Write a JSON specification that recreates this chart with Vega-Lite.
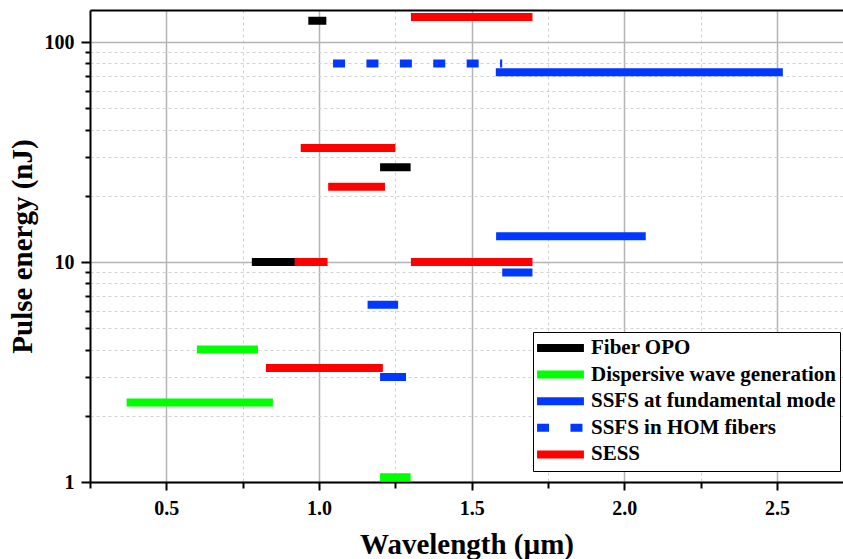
{
  "$schema": "https://vega.github.io/schema/vega-lite/v6.json",
  "autosize": "none",
  "width": 753,
  "height": 472,
  "padding": {"left": 90, "top": 10, "right": 0, "bottom": 77},
  "background": "white",
  "config": {
    "view": {"stroke": null},
    "font": "Liberation Serif",
    "axis": {
      "labelFont": "Liberation Serif",
      "labelFontWeight": "bold",
      "labelFontSize": 20,
      "labelColor": "black",
      "titleFont": "Liberation Serif",
      "titleFontWeight": "bold",
      "titleFontSize": 29,
      "titleColor": "black",
      "domainColor": "black",
      "domainWidth": 2,
      "tickColor": "black",
      "tickWidth": 2
    }
  },
  "data": {
    "values": [
      {"series": "Fiber OPO", "x1": 0.965, "x2": 1.024, "energy": 125},
      {"series": "Fiber OPO", "x1": 1.2, "x2": 1.3, "energy": 27},
      {"series": "Fiber OPO", "x1": 0.78, "x2": 0.978, "energy": 10},
      {"series": "Dispersive wave generation", "x1": 0.6, "x2": 0.8, "energy": 4.0},
      {"series": "Dispersive wave generation", "x1": 0.37, "x2": 0.849, "energy": 2.3},
      {"series": "Dispersive wave generation", "x1": 1.2, "x2": 1.3, "energy": 1.05},
      {"series": "SSFS at fundamental mode", "x1": 1.579, "x2": 2.519, "energy": 73},
      {"series": "SSFS at fundamental mode", "x1": 1.58, "x2": 2.07, "energy": 13.1},
      {"series": "SSFS at fundamental mode", "x1": 1.6, "x2": 1.699, "energy": 8.97},
      {"series": "SSFS at fundamental mode", "x1": 1.159, "x2": 1.259, "energy": 6.4},
      {"series": "SSFS at fundamental mode", "x1": 1.2, "x2": 1.285, "energy": 3.0},
      {"series": "SSFS in HOM fibers", "x1": 1.046, "x2": 1.6, "energy": 80},
      {"series": "SESS", "x1": 1.301, "x2": 1.699, "energy": 130},
      {"series": "SESS", "x1": 0.94, "x2": 1.25, "energy": 33},
      {"series": "SESS", "x1": 1.03, "x2": 1.216, "energy": 22},
      {"series": "SESS", "x1": 0.92, "x2": 1.028, "energy": 10},
      {"series": "SESS", "x1": 1.301, "x2": 1.699, "energy": 10},
      {"series": "SESS", "x1": 0.826, "x2": 1.209, "energy": 3.3}
    ]
  },
  "layer": [
    {
      "mark": {"type": "rule", "strokeWidth": 8, "strokeCap": "butt"},
      "encoding": {
        "x": {
          "field": "x1", "type": "quantitative",
          "scale": {"domain": [0.25, 2.716], "nice": false, "zero": false},
          "axis": {
            "title": "Wavelength (µm)",
            "values": [0.25, 0.5, 0.75, 1, 1.25, 1.5, 1.75, 2, 2.25, 2.5],
            "labelExpr": "(datum.value == 0.5 || datum.value == 1 || datum.value == 1.5 || datum.value == 2 || datum.value == 2.5) ? format(datum.value, '.1f') : ''",
            "labelOverlap": false,
            "labelFlush": false,
            "labelPadding": 8,
            "tickSize": {"condition": {"test": "datum.value == 0.5 || datum.value == 1 || datum.value == 1.5 || datum.value == 2 || datum.value == 2.5", "value": 8}, "value": 6},
            "gridDash": {"condition": {"test": "datum.value == 0.5 || datum.value == 1 || datum.value == 1.5 || datum.value == 2 || datum.value == 2.5", "value": []}, "value": [3, 3]},
            "gridColor": {"condition": {"test": "datum.value == 0.5 || datum.value == 1 || datum.value == 1.5 || datum.value == 2 || datum.value == 2.5", "value": "#b4b4b4"}, "value": "#d2d2d2"},
            "gridWidth": {"condition": {"test": "datum.value == 0.5 || datum.value == 1 || datum.value == 1.5 || datum.value == 2 || datum.value == 2.5", "value": 1.5}, "value": 1},
            "titlePadding": 12
          }
        },
        "x2": {"field": "x2"},
        "y": {
          "field": "energy", "type": "quantitative",
          "scale": {"type": "log", "domain": [1, 140], "nice": false},
          "axis": {
            "title": "Pulse energy (nJ)",
            "values": [1, 2, 3, 4, 5, 6, 7, 8, 9, 10, 20, 30, 40, 50, 60, 70, 80, 90, 100],
            "labelExpr": "(datum.value == 1 || datum.value == 10 || datum.value == 100) ? format(datum.value, 'd') : ''",
            "labelOverlap": false,
            "labelFlush": false,
            "labelPadding": 7,
            "tickSize": {"condition": {"test": "datum.value == 1 || datum.value == 10 || datum.value == 100", "value": 9}, "value": 5},
            "gridDash": {"condition": {"test": "datum.value == 1 || datum.value == 10 || datum.value == 100", "value": []}, "value": [3, 3]},
            "gridColor": {"condition": {"test": "datum.value == 1 || datum.value == 10 || datum.value == 100", "value": "#b4b4b4"}, "value": "#d2d2d2"},
            "gridWidth": {"condition": {"test": "datum.value == 1 || datum.value == 10 || datum.value == 100", "value": 1.5}, "value": 1},
            "titlePadding": 7
          }
        },
        "color": {
          "field": "series", "type": "nominal",
          "scale": {
            "domain": ["Fiber OPO", "Dispersive wave generation", "SSFS at fundamental mode", "SSFS in HOM fibers", "SESS"],
            "range": ["#000000", "#00ff00", "#0038ff", "#0038ff", "#ff0000"]
          },
          "legend": {
            "title": null,
            "orient": "none",
            "legendX": 443,
            "legendY": 322,
            "symbolType": "M-6,0H6",
            "symbolSize": 61,
            "symbolStrokeWidth": 8,
            "symbolOffset": 13,
            "labelOffset": 20,
            "labelFont": "Liberation Serif",
            "labelFontWeight": "bold",
            "labelFontSize": 21,
            "labelColor": "black",
            "labelLimit": 400,
            "clipHeight": 24,
            "rowPadding": 2.6,
            "padding": 4,
            "strokeColor": "black",
            "fillColor": "white"
          }
        },
        "strokeDash": {
          "field": "series", "type": "nominal",
          "scale": {
            "domain": ["Fiber OPO", "Dispersive wave generation", "SSFS at fundamental mode", "SSFS in HOM fibers", "SESS"],
            "range": [[1, 0], [1, 0], [1, 0], [12, 21.4], [1, 0]]
          }
        }
      }
    },
    {
      "mark": {"type": "rule", "opacity": 0},
      "encoding": {
        "x": {
          "field": "x1", "type": "quantitative",
          "axis": {"orient": "top", "title": null, "labels": false, "ticks": false, "grid": false, "domainColor": "black", "domainWidth": 2}
        }
      }
    }
  ],
  "resolve": {"axis": {"x": "independent"}}
}
